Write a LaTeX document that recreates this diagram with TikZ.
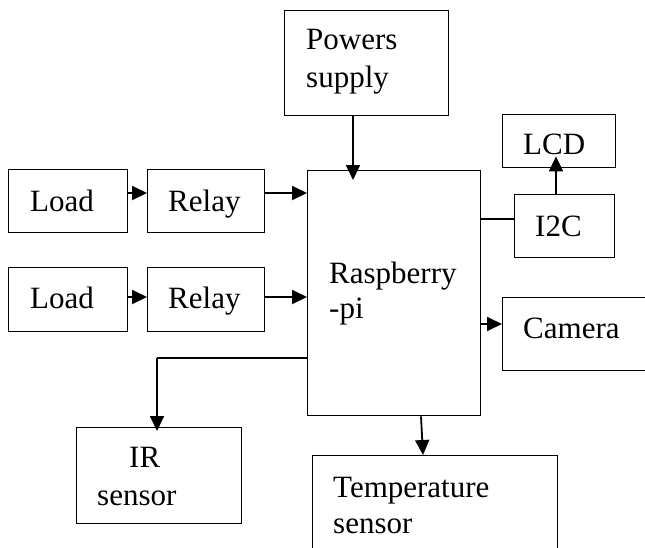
\documentclass[tikz,border=0pt]{standalone}
\usepackage{fontspec}
\setmainfont{Liberation Serif}
\usetikzlibrary{arrows.meta}
\begin{document}
\begin{tikzpicture}[x=1pt,y=-1pt,
  box/.style={draw,line width=1.4pt,rectangle,inner sep=0pt,anchor=north west},
  lbl/.style={anchor=base west,inner sep=0pt,font=\fontsize{31}{37}\selectfont},
  arr/.style={line width=1.8pt,-{Triangle[length=15pt,width=14pt]}},
  wire/.style={line width=1.1pt}]
\useasboundingbox (0,0) rectangle (645,547);
% boxes
\node[box,minimum width=119pt,minimum height=63pt] (load1) at (8,169) {};
\node[box,minimum width=117pt,minimum height=63pt] (relay1) at (147,169) {};
\node[box,minimum width=119pt,minimum height=64pt] (load2) at (8,267) {};
\node[box,minimum width=117pt,minimum height=64pt] (relay2) at (147,267) {};
\node[box,minimum width=164pt,minimum height=105pt] (power) at (284,10) {};
\node[box,minimum width=173pt,minimum height=245pt] (rpi) at (307,170) {};
\node[box,minimum width=113pt,minimum height=53pt] (lcd) at (502,114) {};
\node[box,minimum width=100pt,minimum height=63pt] (i2c) at (514,194) {};
\node[box,minimum width=160pt,minimum height=73pt] (cam) at (502,297) {};
\node[box,minimum width=165pt,minimum height=96pt] (ir) at (76,427) {};
\node[box,minimum width=245pt,minimum height=110pt] (temp) at (312,455) {};
% labels
\node[lbl] (tload1) at (30,211) {Load};
\node[lbl] (trelay1) at (168,211) {Relay};
\node[lbl] (tload2) at (30,308) {Load};
\node[lbl] (trelay2) at (168,308) {Relay};
\node[lbl] (tpow1) at (306,49) {Powers};
\node[lbl] (tpow2) at (306,87) {supply};
\node[lbl] (trpi1) at (329,283) {Raspberry};
\node[lbl] (trpi2) at (329,318) {-pi};
\node[lbl] (tlcd) at (523,154) {LCD};
\node[lbl] (ti2c) at (535,236) {I2C};
\node[lbl] (tcam) at (523,338) {Camera};
\node[lbl] (tir1) at (129,467) {IR};
\node[lbl] (tir2) at (97,505) {sensor};
\node[lbl] (ttemp1) at (333,497) {Temperature};
\node[lbl] (ttemp2) at (333,533) {sensor};
% connectors
\draw[arr] (load1.east |- 0,193) -- (relay1.west |- 0,193);
\draw[arr] (relay1.east |- 0,193) -- (rpi.west |- 0,193);
\draw[arr] (load2.east |- 0,297) -- (relay2.west |- 0,297);
\draw[arr] (relay2.east |- 0,297) -- (rpi.west |- 0,297);
\draw[arr] (power.south -| 353,0) -- ([yshift=-10pt]rpi.north -| 353,0);
\draw[wire] (rpi.east |- 0,219) -- (i2c.west |- 0,219);
\draw[arr] (i2c.north -| 556,0) -- ([yshift=12pt]lcd.south -| 556,0);
\draw[arr] (rpi.east |- 0,324) -- (cam.west |- 0,324);
\draw[wire] (rpi.west |- 0,358) -- (157,358);
\draw[arr] (157,357.5) -- ([yshift=-4pt]ir.north -| 157,0);
\draw[arr] (rpi.south -| 421,0) -- (temp.north -| 423,0);
\end{tikzpicture}
\end{document}
